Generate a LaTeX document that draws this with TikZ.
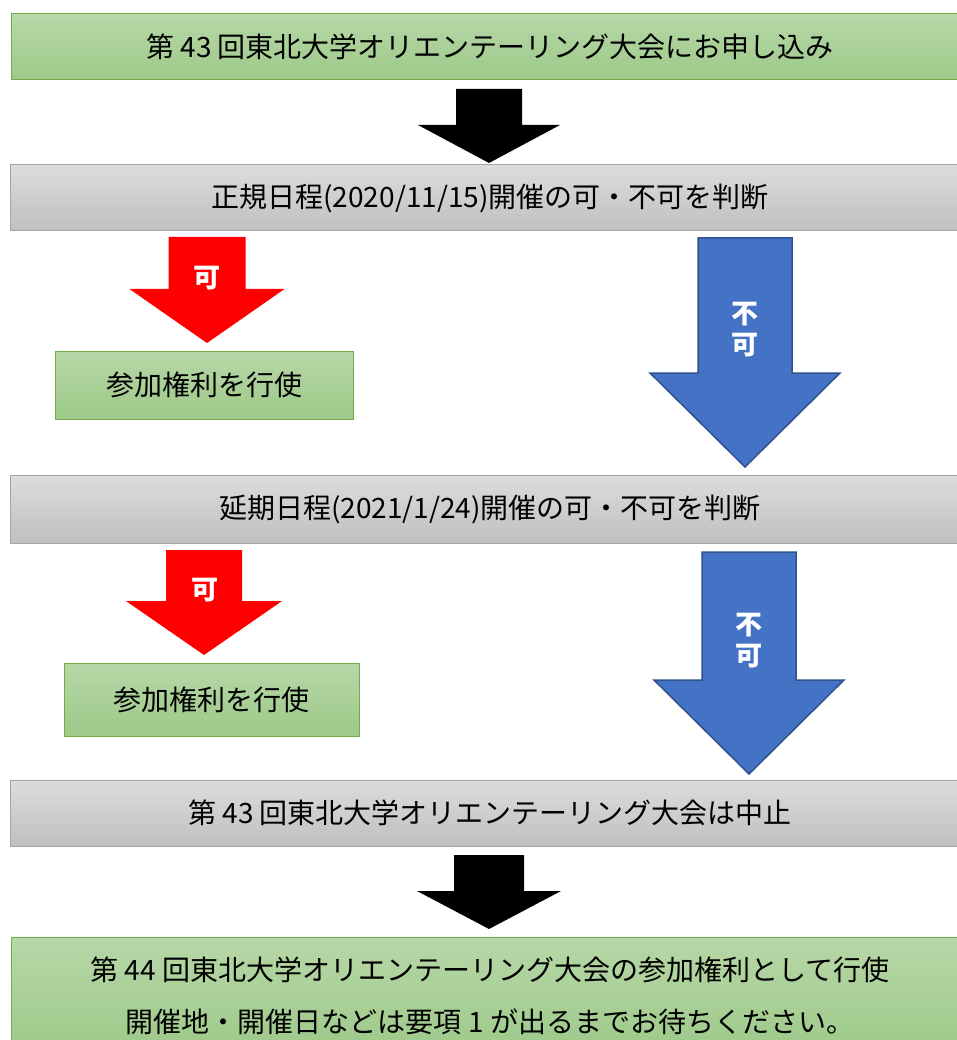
\documentclass[tikz,border=0pt]{standalone}
\usepackage{fontspec}
\setmainfont{Noto Sans CJK JP}
\usetikzlibrary{calc}

\definecolor{greenedge}{RGB}{112,173,71}
\definecolor{greentop}{RGB}{183,215,167}
\definecolor{greenbot}{RGB}{157,201,137}
\definecolor{grayedge}{RGB}{165,165,165}
\definecolor{graytop}{RGB}{220,220,220}
\definecolor{graybot}{RGB}{192,192,192}
\definecolor{ngblue}{RGB}{68,114,196}
\definecolor{ngedge}{RGB}{47,82,143}

\tikzset{
	flowbox/.style={rectangle, minimum height=66pt, inner sep=0pt, font=\fontsize{28}{52}\selectfont},
	greenbox/.style={flowbox, draw=greenedge, line width=1pt, top color=greentop, bottom color=greenbot},
	graybox/.style={flowbox, draw=grayedge, line width=1pt, top color=graytop, bottom color=graybot},
	nextarrow/.style={fill=black},
	okarrow/.style={fill=red},
	ngarrow/.style={fill=ngblue, draw=ngedge, line width=1.5pt},
	arrowlabel/.style={text=white, inner sep=0pt, align=center, font=\fontsize{27}{31}\selectfont\bfseries}
}

% style, top, tip, shaft half width, head half width, head length
\newcommand{\blockarrow}[6]{%
	\path[#1] ($(#2)+(-#4,0)$) -- ($(#2)+(#4,0)$) -- ($(#3)+(#4,-#6)$) -- ($(#3)+(#5,-#6)$)
	-- (#3) -- ($(#3)+(-#5,-#6)$) -- ($(#3)+(-#4,-#6)$) -- cycle;}

\begin{document}
\begin{tikzpicture}[x=1pt,y=-1pt]
	\useasboundingbox (0,0) rectangle (956,1040);
	
	\node[greenbox, minimum width=958pt] (apply) at (490,47) {第 43 回東北大学オリエンテーリング大会にお申し込み};
	\node[graybox, minimum width=959pt] (regular) at (490,198) {正規日程(2020/11/15)開催の可・不可を判断};
	\node[greenbox, minimum width=298pt, minimum height=68pt] (useA) at (204,385) {参加権利を行使};
	\node[graybox, minimum width=959pt, minimum height=68pt] (postponed) at (490,509) {延期日程(2021/1/24)開催の可・不可を判断};
	\node[greenbox, minimum width=295pt, minimum height=73pt] (useB) at (211.5,699.5) {参加権利を行使};
	\node[graybox, minimum width=959pt] (cancel) at (490,813) {第 43 回東北大学オリエンテーリング大会は中止};
	\node[greenbox, minimum width=958pt, minimum height=118pt, align=center] (next) at (490,996)
		{第 44 回東北大学オリエンテーリング大会の参加権利として行使\\開催地・開催日などは要項 1 が出るまでお待ちください。};
	
	% arrow ends
	\coordinate (goA) at (489,89);   \coordinate (goA tip) at (489,163);
	\coordinate (okA) at (207,237);  \coordinate (okA tip) at (207,343);
	\coordinate (ngA) at (745,238);  \coordinate (ngA tip) at (745,467);
	\coordinate (okB) at (204,550);  \coordinate (okB tip) at (204,655);
	\coordinate (ngB) at (749,552);  \coordinate (ngB tip) at (749,774);
	\coordinate (goB) at (489,855);  \coordinate (goB tip) at (489,929);
	
	\blockarrow{nextarrow}{goA}{goA tip}{33}{71}{38}
	\blockarrow{okarrow}{okA}{okA tip}{38.5}{77.5}{54}
	\blockarrow{ngarrow}{ngA}{ngA tip}{47}{95}{94}
	\blockarrow{okarrow}{okB}{okB tip}{38}{78}{54}
	\blockarrow{ngarrow}{ngB}{ngB tip}{47}{95}{94}
	\blockarrow{nextarrow}{goB}{goB tip}{35}{72}{38}
	
	\node[arrowlabel] (okA label) at (207,278) {可};
	\node[arrowlabel] (ngA label) at (745,330) {不\\可};
	\node[arrowlabel] (okB label) at (205,590) {可};
	\node[arrowlabel] (ngB label) at (749,641) {不\\可};
\end{tikzpicture}
\end{document}
